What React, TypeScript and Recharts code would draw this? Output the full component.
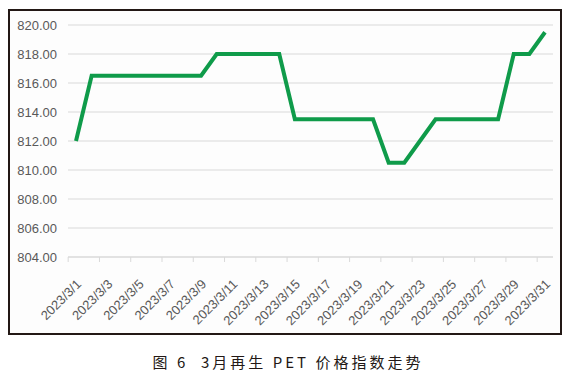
import {
  LineChart,
  Line,
  XAxis,
  YAxis,
  CartesianGrid,
} from 'recharts';

const LINE_GREEN = '#0f9b4a';
const GRID = '#d9d9d9';
const LABEL = '#595959';

const dates = Array.from({ length: 31 }, (_, i) => `2023/3/${i + 1}`);

const prices = [
  812, 816.5, 816.5, 816.5, 816.5, 816.5, 816.5, 816.5, 816.5, 818,
  818, 818, 818, 818, 813.5, 813.5, 813.5, 813.5, 813.5, 813.5,
  810.5, 810.5, 812, 813.5, 813.5, 813.5, 813.5, 813.5, 818, 818,
  819.5,
];

const yTicks = [804, 806, 808, 810, 812, 814, 816, 818, 820];

const data = dates.map((date, i) => ({ date, price: prices[i] }));

function DateTick(props: any) {
  const { x, y, payload } = props;
  const half = 7.8;
  const tx = x + 6;
  const ty = y + 20;
  return (
    <g>
      <line x1={x - half} y1={y - 8} x2={x - half} y2={y - 3} stroke={GRID} />
      <text
        x={tx}
        y={ty}
        textAnchor="end"
        fontSize={13}
        fill={LABEL}
        fontFamily="'Liberation Sans', Arial, sans-serif"
        transform={`rotate(-45, ${tx}, ${ty})`}
      >
        {payload.value}
      </text>
    </g>
  );
}

export default function App() {
  return (
    <div style={{ position: 'absolute', left: 0, top: 0, width: 576, height: 375, background: '#fff' }}>
      <div
        style={{
          position: 'absolute',
          left: 8,
          top: 9,
          width: 550,
          height: 322,
          border: '2px solid #231815',
          background: '#fdfdfd',
        }}
      />
      <div style={{ position: 'absolute', left: 0, top: 0 }}>
        <LineChart
          width={576}
          height={340}
          data={data}
          margin={{ top: 25, right: 23, bottom: 13, left: 8 }}
        >
          <CartesianGrid vertical={false} stroke={GRID} />
          <XAxis
            dataKey="date"
            interval={1}
            padding={{ left: 8, right: 8 }}
            tickLine={false}
            axisLine={{ stroke: GRID }}
            height={70}
            tick={<DateTick />}
          />
          <YAxis
            domain={[804, 820]}
            ticks={yTicks}
            width={60}
            axisLine={false}
            tickLine={false}
            tickMargin={5}
            tickFormatter={(v: number) => v.toFixed(2)}
            tick={{ fontSize: 13, fill: LABEL, fontFamily: "'Liberation Sans', Arial, sans-serif" }}
          />
          <Line
            type="linear"
            dataKey="price"
            stroke={LINE_GREEN}
            strokeWidth={4}
            dot={false}
            isAnimationActive={false}
          />
        </LineChart>
      </div>
      <div
        style={{
          position: 'absolute',
          left: 0,
          top: 352,
          width: 576,
          textAlign: 'center',
          fontSize: 15,
          letterSpacing: 3,
          color: '#231815',
          fontFamily: "'Noto Sans CJK SC', sans-serif",
          lineHeight: '20px',
        }}
      >
        图 6&nbsp;&nbsp;3月再生 PET 价格指数走势
      </div>
    </div>
  );
}
